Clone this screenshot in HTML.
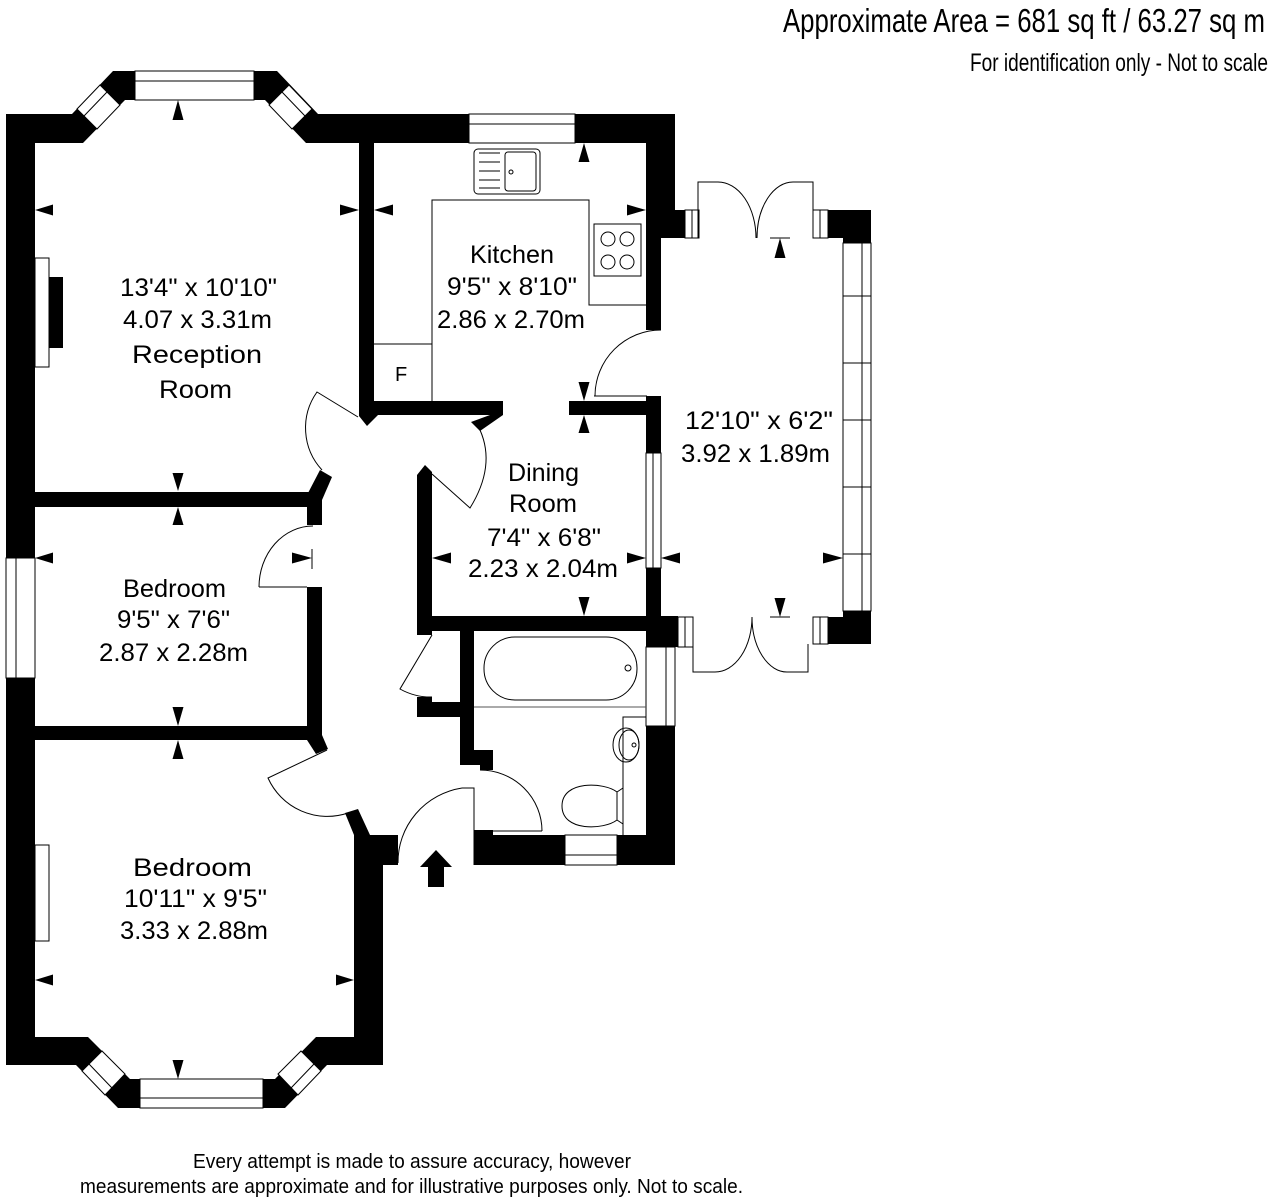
<!DOCTYPE html>
<html><head><meta charset="utf-8"><style>
html,body{margin:0;padding:0;background:#fff;}
svg{display:block;}
text{font-family:"Liberation Sans",Arial,sans-serif;fill:#000;}
</style></head><body>
<svg width="1272" height="1200" viewBox="0 0 1272 1200" xmlns="http://www.w3.org/2000/svg">
<rect x="0" y="0" width="1272" height="1200" fill="#fff"/>

<!-- ===== WALLS ===== -->
<g fill="#000">
<!-- left outer wall -->
<rect x="6" y="114" width="29" height="951"/>
<!-- top-left + bay -->
<polygon points="6,114 72,114 113,71 135,71 135,100 125,100 83,143 6,143"/>
<!-- top-right bay + kitchen top wall -->
<polygon points="254,71 277,71 318,114 675,114 675,143 306,143 265,100 254,100"/>
<!-- kitchen right wall -->
<polygon points="646,143 675,143 675,210 685,210 685,238 661,238 661,330 646,330"/>
<!-- reception/kitchen divider + kitchen bottom-left wall -->
<polygon points="359,143 374,143 374,401 503,401 503,415 378,415 367,426 359,416"/>
<!-- dining door jamb -->
<polygon points="490,415 503,415 480,431 471,422"/>
<!-- kitchen bottom right wall -->
<rect x="569" y="401" width="92" height="14"/>
<!-- dining right wall -->
<rect x="646" y="396" width="15" height="220"/>
<!-- dining left wall -->
<polygon points="417,475 425,465 432,472 432,635 417,635"/>
<!-- dining bottom wall -->
<rect x="417" y="616" width="244" height="15"/>
<rect x="646" y="616" width="32" height="31"/>
<!-- bathroom right wall -->
<rect x="646" y="726" width="29" height="139"/>
<!-- bathroom bottom wall -->
<rect x="474" y="835" width="201" height="30"/>
<rect x="474" y="830" width="19" height="6"/>
<!-- bathroom left wall -->
<polygon points="460,631 474,631 474,750 493,750 493,770 480,770 480,765 460,765"/>
<!-- cupboard block -->
<polygon points="417,697 432,697 432,702 460,702 460,717 417,717"/>
<!-- middle bedroom walls -->
<rect x="35" y="492" width="287" height="15"/>
<rect x="307" y="492" width="15" height="33"/>
<polygon points="307,495 320,470 332,477 322,500"/>
<rect x="307" y="587" width="15" height="153"/>
<rect x="35" y="726" width="287" height="14"/>
<polygon points="307,740 322,735 328,749 316,754"/>
<!-- bottom-left bay wall -->
<polygon points="6,1037 88,1037 130,1079 140,1079 140,1108 118,1108 76,1065 6,1065"/>
<!-- bottom-right bay + right wall -->
<polygon points="345,813 358,809 370,835 398,835 398,865 383,865 383,1065 327,1065 285,1108 263,1108 263,1079 275,1079 316,1037 354,1037 354,835"/>
<!-- conservatory corners -->
<polygon points="828,210 871,210 871,243 843,243 843,238 828,238"/>
<polygon points="843,611 871,611 871,644 828,644 828,617 843,617"/>
</g>

<!-- ===== WINDOWS ===== -->
<g fill="#fff" stroke="#000" stroke-width="1">
<!-- top bay window -->
<rect x="135" y="71" width="119" height="29"/>
<line x1="135" y1="81" x2="254" y2="81"/>
<polygon points="77,109 100,85 120,105 97,129"/>
<line x1="84" y1="116" x2="107" y2="92"/>
<polygon points="312,109 289,85 269,105 292,129"/>
<line x1="305" y1="116" x2="282" y2="92"/>
<!-- kitchen window -->
<rect x="469" y="114" width="106" height="29"/>
<line x1="469" y1="124" x2="575" y2="124"/>
<!-- left wall window (bedroom) -->
<rect x="6" y="558" width="29" height="120"/>
<line x1="16" y1="558" x2="16" y2="678"/>
<!-- dining window -->
<rect x="646" y="453" width="15" height="115"/>
<line x1="653" y1="453" x2="653" y2="568"/>
<!-- bathroom side window -->
<rect x="646" y="647" width="29" height="79"/>
<line x1="666" y1="647" x2="666" y2="726"/>
<!-- bathroom bottom window -->
<rect x="565" y="835" width="52" height="30"/>
<line x1="565" y1="855" x2="617" y2="855"/>
<!-- bottom bay windows -->
<rect x="140" y="1079" width="123" height="29"/>
<line x1="140" y1="1098" x2="263" y2="1098"/>
<polygon points="82,1071 102,1051 125,1074 105,1095"/>
<line x1="89" y1="1064" x2="112" y2="1088"/>
<polygon points="321,1071 301,1051 278,1074 298,1095"/>
<line x1="314" y1="1064" x2="291" y2="1088"/>
<!-- conservatory door frame pieces -->
<rect x="685" y="210" width="14" height="28"/>
<line x1="692" y1="210" x2="692" y2="238"/>
<rect x="813" y="210" width="15" height="28"/>
<line x1="820" y1="210" x2="820" y2="238"/>
<rect x="813" y="617" width="15" height="27"/>
<line x1="820" y1="617" x2="820" y2="644"/>
<rect x="678" y="617" width="15" height="30"/>
<line x1="685" y1="617" x2="685" y2="647"/>
<!-- conservatory glazing strip -->
<rect x="843" y="243" width="28" height="368"/>
<line x1="862" y1="243" x2="862" y2="611"/>
<line x1="843" y1="296" x2="871" y2="296"/>
<line x1="843" y1="363" x2="871" y2="363"/>
<line x1="843" y1="420" x2="871" y2="420"/>
<line x1="843" y1="487" x2="871" y2="487"/>
<line x1="843" y1="554" x2="871" y2="554"/>
<!-- fireplaces -->
<rect x="35" y="258" width="14" height="109"/>
<rect x="35" y="845" width="14" height="96"/>
</g>
<rect x="49" y="277" width="14" height="71" fill="#000"/>

<!-- ===== DOORS ===== -->
<g fill="none" stroke="#000" stroke-width="1">
<!-- reception door -->
<path d="M358,417 L317,392 A62,62 0 0,0 322,470"/>
<!-- kitchen to conservatory -->
<path d="M594,396 L647,396"/>
<path d="M661,330 A66,66 0 0,0 595,396"/>
<!-- dining door -->
<path d="M432,474 L470,508 Q496,466 480,430"/>
<!-- middle bedroom door -->
<path d="M259,587 L307,587"/>
<path d="M259,587 A54,61 0 0,1 313,526"/>
<!-- bottom bedroom door -->
<path d="M327,750 L268,778 A65,65 0 0,0 348,813"/>
<!-- cupboard door -->
<path d="M432,635 L400,689 A63,63 0 0,0 432,697"/>
<!-- bathroom door -->
<path d="M493,831 L542,831"/>
<path d="M480,770 A62,61 0 0,1 542,831"/>
<!-- front door -->
<path d="M474,865 L474,788 L462,788"/>
<path d="M462,788 A76,75 0 0,0 398,863"/>
<!-- conservatory french doors top -->
<path d="M698,238 L698,182 L718,182 A38,56 0 0,1 756,238"/>
<path d="M813,210 L813,182 L793,182 A36,56 0 0,0 757,238"/>
<!-- conservatory french doors bottom -->
<path d="M693,647 L693,672 L715,672 A37,55 0 0,0 752,617"/>
<path d="M808,644 L808,672 L787,672 A35,55 0 0,1 752,617"/>
</g>

<!-- ===== FITTINGS ===== -->
<g fill="none" stroke="#000" stroke-width="1">
<!-- kitchen counters -->
<polyline points="432,401 432,200 589,200 589,305 646,305"/>
<line x1="374" y1="344" x2="432" y2="344"/>
<!-- sink -->
<rect x="474" y="149" width="66" height="45" rx="4"/>
<rect x="505" y="152" width="31" height="39" rx="3"/>
<line x1="479" y1="153" x2="500" y2="153"/>
<line x1="479" y1="162" x2="500" y2="162"/>
<line x1="479" y1="171" x2="500" y2="171"/>
<line x1="479" y1="180" x2="500" y2="180"/>
<line x1="479" y1="188" x2="500" y2="188"/>
<circle cx="511" cy="172" r="2"/>
<!-- hob -->
<rect x="594" y="224" width="47" height="52"/>
<circle cx="608" cy="239" r="7"/>
<circle cx="627" cy="239" r="7"/>
<circle cx="608" cy="262" r="7"/>
<circle cx="627" cy="262" r="7"/>
<!-- bath -->
<rect x="484" y="637" width="153" height="63" rx="31" ry="31"/>
<circle cx="628" cy="668" r="3"/>
<line x1="474" y1="707" x2="646" y2="707" stroke="#555"/>
<!-- basin counter -->
<polyline points="623,835 623,717 646,717"/>
<ellipse cx="626" cy="745" rx="13" ry="17"/>
<ellipse cx="629" cy="745" rx="10" ry="15"/>
<circle cx="634" cy="745" r="2"/>
<!-- toilet -->
<path d="M617,792 C604,782 562,780 562,806 C562,832 604,830 617,820 Z"/>
<path d="M617,792 L623,788 M617,820 L623,824"/>
<!-- dimension ticks -->
<line x1="312" y1="549" x2="312" y2="569"/>
<line x1="770" y1="238" x2="790" y2="238"/>
<line x1="770" y1="617" x2="790" y2="617"/>
</g>

<!-- entrance arrow -->
<polygon fill="#000" points="436,850 452,867 444,867 444,887 428,887 428,867 420,867"/>

<!-- ===== DIMENSION ARROWS ===== -->
<g fill="#000">
<polygon points="178,100 172.5,120 183.5,120"/>
<polygon points="178,491 172.5,473 183.5,473"/>
<polygon points="35,210 53,204.5 53,215.5"/>
<polygon points="359,210 340,204.5 340,215.5"/>
<polygon points="374,210 393,204.5 393,215.5"/>
<polygon points="584,143 578.5,162 589.5,162"/>
<polygon points="646,210 627,204.5 627,215.5"/>
<polygon points="584,401 578.5,382 589.5,382"/>
<polygon points="584,415 578.5,433 589.5,433"/>
<polygon points="584,616 578.5,597 589.5,597"/>
<polygon points="432,558 451,552.5 451,563.5"/>
<polygon points="646,558 627,552.5 627,563.5"/>
<polygon points="178,507 172.5,525 183.5,525"/>
<polygon points="178,726 172.5,707 183.5,707"/>
<polygon points="35,558 53,552.5 53,563.5"/>
<polygon points="312,558 292,552.5 292,563.5"/>
<polygon points="178,740 172.5,759 183.5,759"/>
<polygon points="178,1079 172.5,1060 183.5,1060"/>
<polygon points="35,980 53,974.5 53,985.5"/>
<polygon points="354,980 336,974.5 336,985.5"/>
<polygon points="780,238 774.5,258 785.5,258"/>
<polygon points="780,617 774.5,598 785.5,598"/>
<polygon points="661,558 680,552.5 680,563.5"/>
<polygon points="843,558 823,552.5 823,563.5"/>
</g>

<!-- ===== TEXT ===== -->
<g font-size="25">
<text x="120" y="296" textLength="157" lengthAdjust="spacingAndGlyphs">13'4&quot; x 10'10&quot;</text>
<text x="123" y="328" textLength="149" lengthAdjust="spacingAndGlyphs">4.07 x 3.31m</text>
<text x="132" y="363" textLength="130" lengthAdjust="spacingAndGlyphs">Reception</text>
<text x="159" y="398" textLength="73" lengthAdjust="spacingAndGlyphs">Room</text>

<text x="470" y="263" textLength="84" lengthAdjust="spacingAndGlyphs">Kitchen</text>
<text x="447" y="295" textLength="130" lengthAdjust="spacingAndGlyphs">9'5&quot; x 8'10&quot;</text>
<text x="437" y="328" textLength="148" lengthAdjust="spacingAndGlyphs">2.86 x 2.70m</text>

<text x="123" y="597" textLength="103" lengthAdjust="spacingAndGlyphs">Bedroom</text>
<text x="117" y="628" textLength="113" lengthAdjust="spacingAndGlyphs">9'5&quot; x 7'6&quot;</text>
<text x="99" y="661" textLength="149" lengthAdjust="spacingAndGlyphs">2.87 x 2.28m</text>

<text x="133" y="876" textLength="119" lengthAdjust="spacingAndGlyphs">Bedroom</text>
<text x="124" y="907" textLength="143" lengthAdjust="spacingAndGlyphs">10'11&quot; x 9'5&quot;</text>
<text x="120" y="939" textLength="148" lengthAdjust="spacingAndGlyphs">3.33 x 2.88m</text>

<text x="508" y="481" textLength="71" lengthAdjust="spacingAndGlyphs">Dining</text>
<text x="509" y="512" textLength="68" lengthAdjust="spacingAndGlyphs">Room</text>
<text x="487" y="546" textLength="114" lengthAdjust="spacingAndGlyphs">7'4&quot; x 6'8&quot;</text>
<text x="468" y="577" textLength="150" lengthAdjust="spacingAndGlyphs">2.23 x 2.04m</text>

<text x="685" y="429" textLength="148" lengthAdjust="spacingAndGlyphs">12'10&quot; x 6'2&quot;</text>
<text x="681" y="462" textLength="149" lengthAdjust="spacingAndGlyphs">3.92 x 1.89m</text>
</g>
<text x="395" y="381" font-size="20">F</text>

<text x="783" y="32" font-size="33" textLength="482" lengthAdjust="spacingAndGlyphs">Approximate Area = 681 sq ft / 63.27 sq m</text>
<text x="970" y="71" font-size="25" textLength="298" lengthAdjust="spacingAndGlyphs">For identification only - Not to scale</text>

<text x="193" y="1168" font-size="20" textLength="438" lengthAdjust="spacingAndGlyphs">Every attempt is made to assure accuracy, however</text>
<text x="80" y="1193" font-size="20" textLength="663" lengthAdjust="spacingAndGlyphs">measurements are approximate and for illustrative purposes only. Not to scale.</text>
</svg>
</body></html>
